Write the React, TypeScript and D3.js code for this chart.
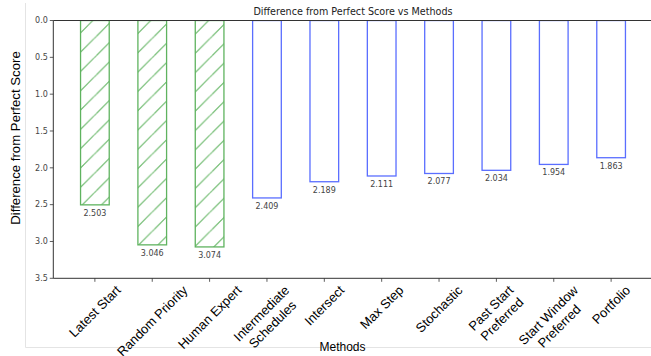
import React from "react";
import * as d3 from "d3";

const categories: string[] = [
  "Latest Start",
  "Random Priority",
  "Human Expert",
  "Intermediate\nSchedules",
  "Intersect",
  "Max Step",
  "Stochastic",
  "Past Start\nPreferred",
  "Start Window\nPreferred",
  "Portfolio",
];
const values: number[] = [2.503, 3.046, 3.074, 2.409, 2.189, 2.111, 2.077, 2.034, 1.954, 1.863];
const baselineGroup: boolean[] = [true, true, true, false, false, false, false, false, false, false];
const yTicks: number[] = [0, 0.5, 1, 1.5, 2, 2.5, 3, 3.5];

const W = 651;
const H = 356;
const left = 53.3;
const right = 652.7;
const top = 20.5;
const bottom = 278.3;
const GREEN = "#5fb35f";
const BLUE = "#5a6eff";
const SPINE = "#333";
const TICK_FONT = "'Liberation Sans', Arial, sans-serif";
const DV = "'DejaVu Sans', sans-serif";

let ctx: CanvasRenderingContext2D | null = null;
function measure(text: string, font: string): number {
  if (!ctx) {
    const c = document.createElement("canvas");
    ctx = c.getContext("2d");
  }
  if (!ctx) return text.length * 6;
  ctx.font = font;
  return ctx.measureText(text).width;
}

export default function App() {
  const x = d3.scaleLinear().domain([-0.725, categories.length - 1 + 0.725]).range([left, right]);
  const y = d3.scaleLinear().domain([0, 3.5]).range([top, bottom]);
  const barW = x(0.5) - x(0);
  const P = 19.3;
  const c = 16.9;
  const tickFs = 13;
  const lh = tickFs * 1.2;

  return (
    <svg width={W} height={H} style={{ position: "absolute", left: 0, top: 0, background: "#fff" }}>
      <defs>
        <pattern id="hatch" patternUnits="userSpaceOnUse" width={P} height={P}>
          <line x1={0} y1={c} x2={c} y2={0} stroke={GREEN} strokeWidth={1} />
          <line x1={c} y1={P} x2={P} y2={c} stroke={GREEN} strokeWidth={1} />
        </pattern>
        <clipPath id="plotclip">
          <rect x={left} y={top} width={right - left} height={bottom - top} />
        </clipPath>
      </defs>
      {/* outer light frame */}
      <line x1={25.5} y1={3} x2={25.5} y2={347.5} stroke="#e4e4e4" strokeWidth={1} />
      <line x1={25.5} y1={347.5} x2={W} y2={347.5} stroke="#e4e4e4" strokeWidth={1} />

      {/* bars */}
      <g clipPath="url(#plotclip)">
        {values.map((v, i) => {
          const x0 = x(i) - barW / 2;
          const h = y(v) - y(0);
          return (
            <rect
              key={i}
              x={x0}
              y={y(0)}
              width={barW}
              height={h}
              fill={baselineGroup[i] ? "url(#hatch)" : "none"}
              stroke={baselineGroup[i] ? GREEN : BLUE}
              strokeWidth={1.3}
            />
          );
        })}
      </g>
      {values.map((v, i) => (
        <text
          key={"v" + i}
          x={x(i)}
          y={y(v) + 11}
          textAnchor="middle"
          fontFamily={DV}
          fontSize={8}
          fill="#444"
        >
          {v.toFixed(3)}
        </text>
      ))}

      {/* spines */}
      <line x1={left} y1={top} x2={W} y2={top} stroke={SPINE} strokeWidth={1} />
      <line x1={left} y1={bottom} x2={W} y2={bottom} stroke={SPINE} strokeWidth={1} />
      <line x1={left} y1={top} x2={left} y2={bottom} stroke={SPINE} strokeWidth={1} />

      {/* y ticks */}
      {yTicks.map((t) => (
        <g key={"y" + t}>
          <line x1={left - 3.5} x2={left} y1={y(t)} y2={y(t)} stroke={SPINE} strokeWidth={0.8} />
          <text
            x={left - 5.5}
            y={y(t)}
            dy="0.35em"
            textAnchor="end"
            fontFamily={DV}
            fontSize={8}
            fill="#444"
          >
            {t.toFixed(1)}
          </text>
        </g>
      ))}

      {/* x ticks */}
      {categories.map((cat, i) => {
        const lines = cat.split("\n");
        const font = `${tickFs}px ${TICK_FONT}`;
        const L = Math.max(...lines.map((l) => measure(l, font)));
        const blockH = lines.length * lh;
        const half = ((L + blockH) * Math.SQRT1_2) / 2;
        const cy = bottom + 4 + half;
        return (
          <g key={"x" + i}>
            <line x1={x(i)} x2={x(i)} y1={bottom} y2={bottom + 3.5} stroke={SPINE} strokeWidth={0.8} />
            <g transform={`translate(${x(i)},${cy}) rotate(-45)`}>
              {lines.map((ln, j) => (
                <text
                  key={j}
                  x={0}
                  y={(j - (lines.length - 1) / 2) * lh}
                  dy="0.35em"
                  textAnchor="middle"
                  fontFamily={TICK_FONT}
                  fontSize={tickFs}
                  fill="#000"
                >
                  {ln}
                </text>
              ))}
            </g>
          </g>
        );
      })}

      {/* title */}
      <text
        x={(left + right) / 2}
        y={15}
        textAnchor="middle"
        fontFamily={DV}
        fontSize={9.6}
        fill="#222"
      >
        Difference from Perfect Score vs Methods
      </text>

      {/* axis labels */}
      <text
        transform={`translate(20,${(48 + 228) / 2}) rotate(-90)`}
        textAnchor="middle"
        fontFamily={TICK_FONT}
        fontSize={13.2}
        fill="#000"
      >
        Difference from Perfect Score
      </text>
      <text x={342.5} y={351} textAnchor="middle" fontFamily={TICK_FONT} fontSize={12} fill="#000">
        Methods
      </text>
    </svg>
  );
}
